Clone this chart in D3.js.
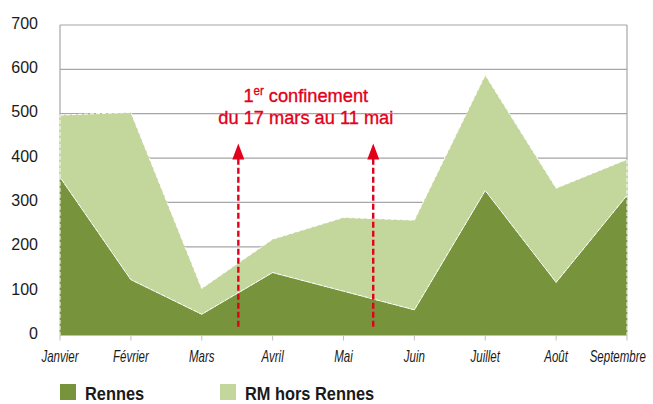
<!DOCTYPE html>
<html>
<head>
<meta charset="utf-8">
<script src="https://cdn.jsdelivr.net/npm/d3@7"></script>
<style>
  html, body { margin: 0; padding: 0; background: #fff; }
  svg { display: block; }
  .y-tick text { font-family: "Liberation Sans", Arial, sans-serif; font-size: 16px; fill: #1a1a1a; }
  .x-tick text { font-family: "Liberation Sans", Arial, sans-serif; font-style: italic; font-size: 16px; fill: #1a1a1a; }
  .legend text { font-family: "Liberation Sans", Arial, sans-serif; font-weight: bold; font-size: 18px; fill: #1a1a1a; }
  .note { font-family: "Liberation Sans", Arial, sans-serif; font-size: 19px; fill: #e2001a; stroke: #e2001a; stroke-width: 0.35px; }
</style>
</head>
<body>
<svg id="chart" width="653" height="404"></svg>
<script>
const months = ['Janvier', 'Février', 'Mars', 'Avril', 'Mai', 'Juin', 'Juillet', 'Août', 'Septembre'];
const rennes = [357, 126, 48, 142, 100, 58, 327, 120, 316];
const rmHorsRennes = [140, 377, 58, 75, 166, 202, 260, 212, 81];
const seriesNames = ['Rennes', 'RM hors Rennes'];
const seriesColors = ['#77933c', '#c3d69b'];
const yTicks = [0, 100, 200, 300, 400, 500, 600, 700];
// confinement: 17 mars -> 11 mai, as fractional month positions
const arrowPositions = [2 + 16 / 31, 4 + 13 / 31];
const arrowRange = [20, 433];

const svg = d3.select('#chart');
const margin = { top: 25, right: 26, bottom: 68.5, left: 60 };
const width = 653 - margin.left - margin.right;
const height = 404 - margin.top - margin.bottom;

const x = d3.scaleLinear().domain([0, months.length - 1]).range([margin.left, margin.left + width]);
const y = d3.scaleLinear().domain([0, 700]).range([margin.top + height, margin.top]);

const table = months.map((month, i) => ({ month, i, Rennes: rennes[i], 'RM hors Rennes': rmHorsRennes[i] }));
const stacked = d3.stack().keys(seriesNames)(table);

// gridlines
svg.append('g')
  .selectAll('line')
  .data(yTicks.filter((t) => t > 0))
  .join('line')
  .attr('x1', x(0))
  .attr('x2', x(months.length - 1))
  .attr('y1', (t) => y(t))
  .attr('y2', (t) => y(t))
  .attr('stroke', '#a6a6a6')
  .attr('stroke-width', 1.2);

// plot frame (left / right)
for (const side of [0, months.length - 1]) {
  svg.append('line')
    .attr('x1', x(side)).attr('x2', x(side)).attr('y1', y(700)).attr('y2', y(0))
    .attr('stroke', '#a6a6a6').attr('stroke-width', 1.2);
}

const area = d3.area()
  .x((d) => x(d.data.i))
  .y0((d) => y(d[0]))
  .y1((d) => y(d[1]));

svg.append('g')
  .selectAll('path')
  .data(stacked)
  .join('path')
  .attr('d', (s) => area(s) + 'Z')
  .attr('fill', (s, i) => seriesColors[i])
  .attr('stroke', '#ffffff')
  .attr('stroke-width', 1)
  .attr('stroke-dasharray', '4,2');

// x axis
const xAxis = svg.append('g');
xAxis.append('line')
  .attr('x1', x(0)).attr('x2', x(8)).attr('y1', y(0)).attr('y2', y(0))
  .attr('stroke', '#bfbfbf').attr('stroke-width', 1);
const xt = xAxis.selectAll('g').data(months).join('g').attr('class', 'x-tick')
  .attr('transform', (d, i) => `translate(${x(i)},${y(0)})`);
xt.append('line').attr('y1', 0).attr('y2', 5).attr('stroke', '#bfbfbf');
const xSqueeze = 0.72;
xt.append('text')
  .attr('text-anchor', 'middle')
  .attr('transform', `translate(0,26) scale(${xSqueeze},1)`)
  .text((d) => d);
// keep the last labels inside the picture, like the spreadsheet does
xt.each(function (d, i) {
  const text = d3.select(this).select('text');
  const half = (text.node().getComputedTextLength() * xSqueeze) / 2;
  const overflow = x(i) + half - 646;
  if (overflow > 0) text.attr('transform', `translate(${-overflow},26) scale(${xSqueeze},1)`);
});

// y axis labels
svg.append('g')
  .selectAll('g')
  .data(yTicks)
  .join('g')
  .attr('class', 'y-tick')
  .attr('transform', (t) => `translate(38,${y(t)})`)
  .append('text')
  .attr('text-anchor', 'end')
  .attr('dy', '0.22em')
  .text((t) => t);

// arrows
svg.append('g')
  .selectAll('line')
  .data(arrowPositions)
  .join('line')
  .attr('x1', (d) => x(d)).attr('x2', (d) => x(d))
  .attr('y1', y(arrowRange[0])).attr('y2', y(arrowRange[1]) + 12)
  .attr('stroke', '#e2001a')
  .attr('stroke-width', 2.4)
  .attr('stroke-dasharray', '6,3');
svg.append('g')
  .selectAll('path')
  .data(arrowPositions)
  .join('path')
  .attr('d', (d) => `M${x(d) - 6},${y(arrowRange[1]) + 16} L${x(d)},${y(arrowRange[1])} L${x(d) + 6},${y(arrowRange[1]) + 16} Z`)
  .attr('fill', '#e2001a');

// annotation
const noteSqueeze = 0.96;
const noteX = (x(arrowPositions[0]) + x(arrowPositions[1])) / 2;
const line1 = svg.append('text').attr('class', 'note').attr('text-anchor', 'middle')
  .attr('transform', `translate(${noteX},101.5) scale(${noteSqueeze},1)`);
line1.append('tspan').text('1');
line1.append('tspan').attr('font-size', 12).attr('dy', -7).text('er');
line1.append('tspan').attr('dy', 7).text(' confinement');
svg.append('text').attr('class', 'note').attr('text-anchor', 'middle')
  .attr('transform', `translate(${noteX},123.5) scale(${noteSqueeze},1)`)
  .text('du 17 mars au 11 mai');

// legend
const legendX = [60, 220];
const legend = svg.append('g').attr('class', 'legend')
  .selectAll('g')
  .data(seriesNames)
  .join('g')
  .attr('transform', (d, i) => `translate(${legendX[i]},384)`);
legend.append('rect').attr('width', 16).attr('height', 16).attr('fill', (d, i) => seriesColors[i]);
legend.append('text').attr('transform', 'translate(25,15.5) scale(0.91,1)').text((d) => d);
</script>
</body>
</html>
